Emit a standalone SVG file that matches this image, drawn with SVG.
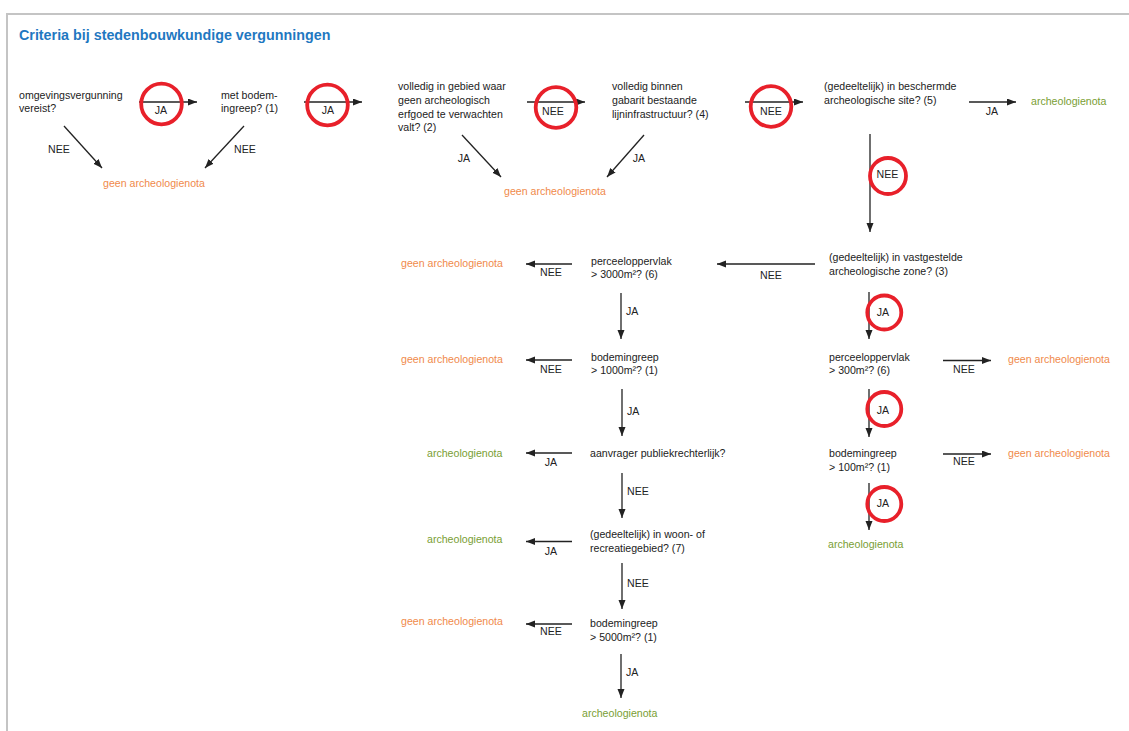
<svg xmlns="http://www.w3.org/2000/svg" width="1129" height="731" viewBox="0 0 1129 731">
<defs>
<marker id="ah" markerUnits="userSpaceOnUse" markerWidth="10" markerHeight="8" refX="9" refY="3.5" orient="auto">
<path d="M0,0 L9,3.5 L0,7 z" fill="#222"/>
</marker>
<style>
text{font-family:"Liberation Sans",Arial,sans-serif;font-size:10.6px;fill:#222}
.title{font-size:14.3px;font-weight:bold;fill:#1f78c1}
.or{fill:#f08a4b}
.gr{fill:#7a9e34}
.lbl{text-anchor:middle}
.c line{stroke:#222;stroke-width:1.3;marker-end:url(#ah)}
.hl circle{fill:none;stroke:#e8202a;stroke-width:3.8}
</style>
</defs>
<rect x="0" y="0" width="1129" height="731" fill="#fff"/>
<path d="M7,731 V14 H1129" fill="none" stroke="#c4c4c4" stroke-width="2"/>
<text class="title" x="19" y="39.5">Criteria bij stedenbouwkundige vergunningen</text>

<g id="n1"><text x="19" y="99">omgevingsvergunning</text><text x="19" y="112">vereist?</text></g>
<g id="n2"><text x="221" y="99">met bodem-</text><text x="221" y="112">ingreep? (1)</text></g>
<g id="n3"><text x="398" y="90">volledig in gebied waar</text><text x="398" y="104">geen archeologisch</text><text x="398" y="117.5">erfgoed te verwachten</text><text x="398" y="131">valt? (2)</text></g>
<g id="n4"><text x="612" y="90">volledig binnen</text><text x="612" y="104">gabarit bestaande</text><text x="612" y="117.5">lijninfrastructuur? (4)</text></g>
<g id="n5"><text x="824" y="90">(gedeeltelijk) in beschermde</text><text x="824" y="104">archeologische site? (5)</text></g>
<g id="t1"><text class="or" x="103" y="187">geen archeologienota</text></g>
<g id="t2"><text class="or" x="504" y="195">geen archeologienota</text></g>
<g id="t3"><text class="gr" x="1031" y="105">archeologienota</text></g>
<g id="n6"><text x="829" y="261">(gedeeltelijk) in vastgestelde</text><text x="829" y="275">archeologische zone? (3)</text></g>
<g id="n7"><text x="591" y="264.5">perceeloppervlak</text><text x="591" y="278">&gt; 3000m²? (6)</text></g>
<g id="t4"><text class="or" x="401" y="266.5">geen archeologienota</text></g>
<g id="n8"><text x="591" y="360.5">bodemingreep</text><text x="591" y="374">&gt; 1000m²? (1)</text></g>
<g id="t5"><text class="or" x="401" y="363">geen archeologienota</text></g>
<g id="n9"><text x="590" y="457">aanvrager publiekrechterlijk?</text></g>
<g id="t6"><text class="gr" x="427" y="456.5">archeologienota</text></g>
<g id="n10"><text x="590" y="538">(gedeeltelijk) in woon- of</text><text x="590" y="552">recreatiegebied? (7)</text></g>
<g id="t7"><text class="gr" x="427" y="543">archeologienota</text></g>
<g id="n11"><text x="590" y="627">bodemingreep</text><text x="590" y="641">&gt; 5000m²? (1)</text></g>
<g id="t8"><text class="or" x="401" y="625">geen archeologienota</text></g>
<g id="t9"><text class="gr" x="582" y="717">archeologienota</text></g>
<g id="n12"><text x="829" y="360.5">perceeloppervlak</text><text x="829" y="374">&gt; 300m²? (6)</text></g>
<g id="t10"><text class="or" x="1008" y="363">geen archeologienota</text></g>
<g id="n13"><text x="829" y="457">bodemingreep</text><text x="829" y="470.5">&gt; 100m²? (1)</text></g>
<g id="t11"><text class="or" x="1008" y="456.5">geen archeologienota</text></g>
<g id="t12"><text class="gr" x="828" y="548">archeologienota</text></g>

<g id="connectors" class="c">
<line x1="139" y1="102" x2="197" y2="102"/><text class="lbl" x="161" y="114">JA</text>
<line x1="64" y1="126" x2="102" y2="168"/><text class="lbl" x="59" y="153">NEE</text>
<line x1="244" y1="126" x2="205" y2="168"/><text class="lbl" x="245" y="153">NEE</text>
<line x1="304" y1="102" x2="362" y2="102"/><text class="lbl" x="328" y="114">JA</text>
<line x1="527" y1="102" x2="585" y2="102"/><text class="lbl" x="553" y="115">NEE</text>
<line x1="462" y1="135" x2="501" y2="177"/><text class="lbl" x="464" y="162">JA</text>
<line x1="644" y1="135" x2="607" y2="177"/><text class="lbl" x="639" y="162">JA</text>
<line x1="745" y1="102" x2="803" y2="102"/><text class="lbl" x="771" y="115">NEE</text>
<line x1="969" y1="102" x2="1016" y2="102"/><text class="lbl" x="992" y="115">JA</text>
<line x1="870" y1="134" x2="870" y2="232"/><text class="lbl" x="887.5" y="177.5">NEE</text>
<line x1="815" y1="264" x2="717" y2="264"/><text class="lbl" x="771" y="279">NEE</text>
<line x1="572" y1="264" x2="526" y2="264"/><text class="lbl" x="551" y="276">NEE</text>
<line x1="621" y1="293" x2="621" y2="339"/><text x="626" y="315">JA</text>
<line x1="572" y1="360" x2="526" y2="360"/><text class="lbl" x="551" y="373">NEE</text>
<line x1="622" y1="389" x2="622" y2="436"/><text x="627" y="415">JA</text>
<line x1="572" y1="453" x2="526" y2="453"/><text class="lbl" x="551" y="466">JA</text>
<line x1="622" y1="473" x2="622" y2="518"/><text x="627" y="495">NEE</text>
<line x1="572" y1="541.5" x2="526" y2="541.5"/><text class="lbl" x="551" y="555">JA</text>
<line x1="622" y1="563" x2="622" y2="609"/><text x="627" y="587">NEE</text>
<line x1="572" y1="624" x2="526" y2="624"/><text class="lbl" x="551" y="635">NEE</text>
<line x1="621" y1="654" x2="621" y2="698"/><text x="626" y="676">JA</text>
<line x1="869" y1="292" x2="869" y2="339"/><text class="lbl" x="883" y="316">JA</text>
<line x1="943" y1="360.5" x2="991" y2="360.5"/><text class="lbl" x="964" y="372.5">NEE</text>
<line x1="869" y1="389" x2="869" y2="437"/><text class="lbl" x="883" y="414">JA</text>
<line x1="943" y1="454" x2="991" y2="454"/><text class="lbl" x="964" y="465">NEE</text>
<line x1="869" y1="483" x2="869" y2="530"/><text class="lbl" x="883" y="507">JA</text>
</g>

<g id="highlights" class="hl">
<circle cx="161.5" cy="104" r="20.3"/>
<circle cx="327.5" cy="105" r="20.3"/>
<circle cx="556" cy="107.5" r="20.3"/>
<circle cx="771" cy="106.5" r="20.3"/>
<circle cx="888" cy="176" r="18"/>
<circle cx="884.3" cy="312.5" r="17"/>
<circle cx="884.3" cy="409" r="17"/>
<circle cx="884.3" cy="504" r="17"/>
</g>
</svg>
